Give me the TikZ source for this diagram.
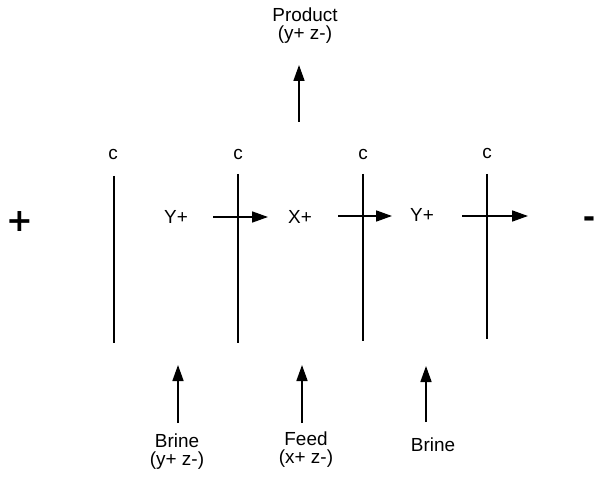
\documentclass[tikz,border=0pt]{standalone}
\usepackage{fontspec}
\setmainfont{Liberation Sans}
\newfontfamily\polefont{DejaVu Sans}
\usetikzlibrary{positioning,arrows.meta}
\tikzset{
  mem/.style={draw=black,line width=1.6bp},
  flow/.style={draw=black,line width=1.7bp,-{Triangle[length=16bp,width=11bp]}},
  lab/.style={inner sep=0pt,align=center,font=\fontsize{19}{18}\selectfont},
}
\tikzset{pole/.style={inner sep=0pt,font=\polefont\bfseries}}

\begin{document}
\begin{tikzpicture}[x=1bp,y=-1bp]
\useasboundingbox (0,0) rectangle (595,481);
% membranes
\coordinate(t1) at (114,176);\coordinate(b1) at (114,343);
\coordinate(t2) at (238,174);\coordinate(b2) at (238,343);
\coordinate(t3) at (363,174);\coordinate(b3) at (363,341);
\coordinate(t4) at (487,174);\coordinate(b4) at (487,339);
\foreach \i in {1,...,4}{\draw[mem] (t\i)--(b\i);}
\node[lab](c1) at (113,155){c};\node[lab](c2) at (238,155){c};\node[lab](c3) at (363,155){c};\node[lab](c4) at (487,154){c};
% ions and transport
\node[lab](y1) at (176,217){Y+};\node[lab](x1) at (300,217){X+};\node[lab](y2) at (422,215){Y+};
\coordinate(s1) at (213,217);\coordinate(e1) at (268,217);
\coordinate(s2) at (338,216);\coordinate(e2) at (392,216);
\coordinate(s3) at (462,216);\coordinate(e3) at (528,216);
\foreach \i in {1,2,3}{\draw[flow] (s\i)--(e\i);}
% streams
\node[lab](prod) at (305,26){Product\\(y+ z-)};
\coordinate(p0) at (299,122);\coordinate(p1) at (299,65);\draw[flow] (p0)--(p1);
\node[lab](brine1) at (177,452){Brine\\(y+ z-)};
\node[lab](feed) at (306,450){Feed\\(x+ z-)};
\node[lab](brine2) at (433,445){Brine};
\coordinate(f1) at (178,423);\coordinate(g1) at (178,365);\draw[flow] (f1)--(g1);
\coordinate(f2) at (302,423);\coordinate(g2) at (302,365);\draw[flow] (f2)--(g2);
\coordinate(f3) at (426,422);\coordinate(g3) at (426,366);\draw[flow] (f3)--(g3);
% electrodes
\node[pole,font=\polefont\bfseries\fontsize{32}{32}\selectfont](anode) at (20,222){+};
\node[pole,font=\polefont\bfseries\fontsize{30}{30}\selectfont](cathode) at (589,222){-};
\end{tikzpicture}
\end{document}
